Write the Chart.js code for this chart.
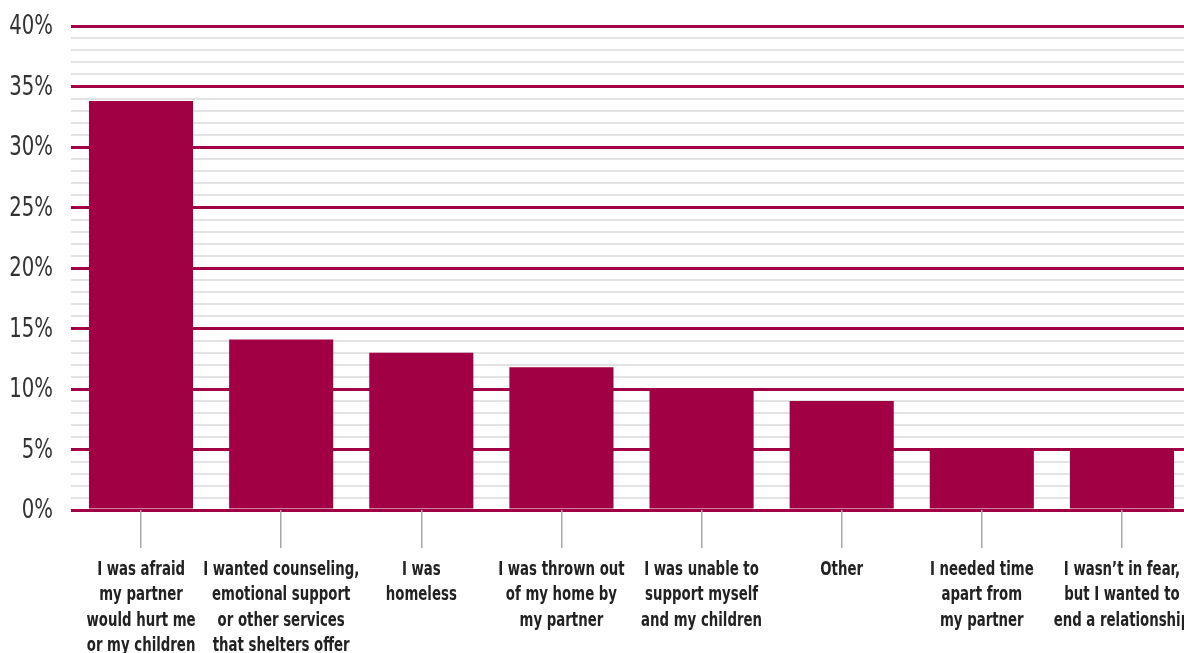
<!DOCTYPE html>
<html>
<head>
<meta charset="utf-8">
<script src="https://cdn.jsdelivr.net/npm/chart.js@4.4.1/dist/chart.umd.min.js"></script>
<style>
  html, body { margin: 0; padding: 0; background: #fff; overflow: hidden; }
  #wrap { width: 1192px; height: 653px; position: relative; }
</style>
</head>
<body>
<div id="wrap"><canvas id="chart"></canvas></div>
<script>
// Reasons for going to a shelter (% of respondents)
const categories = [
  ["I was afraid", "my partner", "would hurt me", "or my children"],
  ["I wanted counseling,", "emotional support", "or other services", "that shelters offer"],
  ["I was", "homeless"],
  ["I was thrown out", "of my home by", "my partner"],
  ["I was unable to", "support myself", "and my children"],
  ["Other"],
  ["I needed time", "apart from", "my partner"],
  ["I wasn\u2019t in fear,", "but I wanted to", "end a relationship"]
];
const values = [33.8, 14.1, 13.0, 11.8, 10.0, 9.0, 5.0, 5.1];
const majorTicks = [0, 5, 10, 15, 20, 25, 30, 35, 40];

const CRIMSON = "#a10044";
const FONT = "'DejaVu Sans Condensed', 'DejaVu Sans', sans-serif";

// The original uses a condensed face; squeeze the canvas text horizontally
const condensedLabels = {
  id: "condensedLabels",
  afterDraw(chart) {
    const { ctx, scales } = chart;
    const x = scales.x;
    const y = scales.y;

    ctx.save();
    ctx.fillStyle = "#333";
    ctx.font = "27px " + FONT;
    ctx.textAlign = "right";
    ctx.textBaseline = "middle";
    majorTicks.forEach((v) => {
      ctx.save();
      ctx.translate(53, y.getPixelForValue(v));
      ctx.scale(0.81, 1);
      ctx.fillText(v + "%", 0, 1);
      ctx.restore();
    });

    ctx.fillStyle = "#222";
    ctx.font = "bold 20px " + FONT;
    ctx.textAlign = "center";
    ctx.textBaseline = "alphabetic";
    categories.forEach((lines, i) => {
      const cx = x.getPixelForTick(i);
      lines.forEach((line, k) => {
        ctx.save();
        ctx.translate(cx, x.top + 65 + k * 25.3);
        ctx.scale(0.74, 1);
        ctx.fillText(line, 0, 0);
        ctx.restore();
      });
    });
    ctx.restore();
  },
};

const ctx = document.getElementById("chart").getContext("2d");
new Chart(ctx, {
  type: "bar",
  data: {
    labels: categories,
    datasets: [
      {
        data: values,
        backgroundColor: CRIMSON,
        borderWidth: 0,
        barPercentage: 0.743,
        categoryPercentage: 1.0,
      },
    ],
  },
  options: {
    responsive: true,
    maintainAspectRatio: false,
    animation: false,
    layout: { padding: { top: 26, left: 0, right: 0, bottom: 0 } },
    plugins: {
      legend: { display: false },
      tooltip: { enabled: false },
    },
    scales: {
      y: {
        min: 0,
        max: 40,
        border: { display: false },
        afterFit: (scale) => { scale.width = 71; },
        ticks: {
          display: false,
          stepSize: 1,
          autoSkip: false,
        },
        grid: {
          drawTicks: false,
          color: (c) => (majorTicks.includes(c.tick.value) ? CRIMSON : "#e3e3e3"),
          lineWidth: (c) => (majorTicks.includes(c.tick.value) ? 3 : 2),
        },
      },
      x: {
        border: { display: false },
        afterFit: (scale) => { scale.height = 143; },
        grid: {
          offset: false,
          drawOnChartArea: false,
          drawTicks: true,
          tickLength: 38,
          color: "#a8a8a8",
          lineWidth: 1.5,
        },
        ticks: {
          display: false,
          autoSkip: false,
        },
      },
    },
  },
  plugins: [condensedLabels],
});
</script>
</body>
</html>
